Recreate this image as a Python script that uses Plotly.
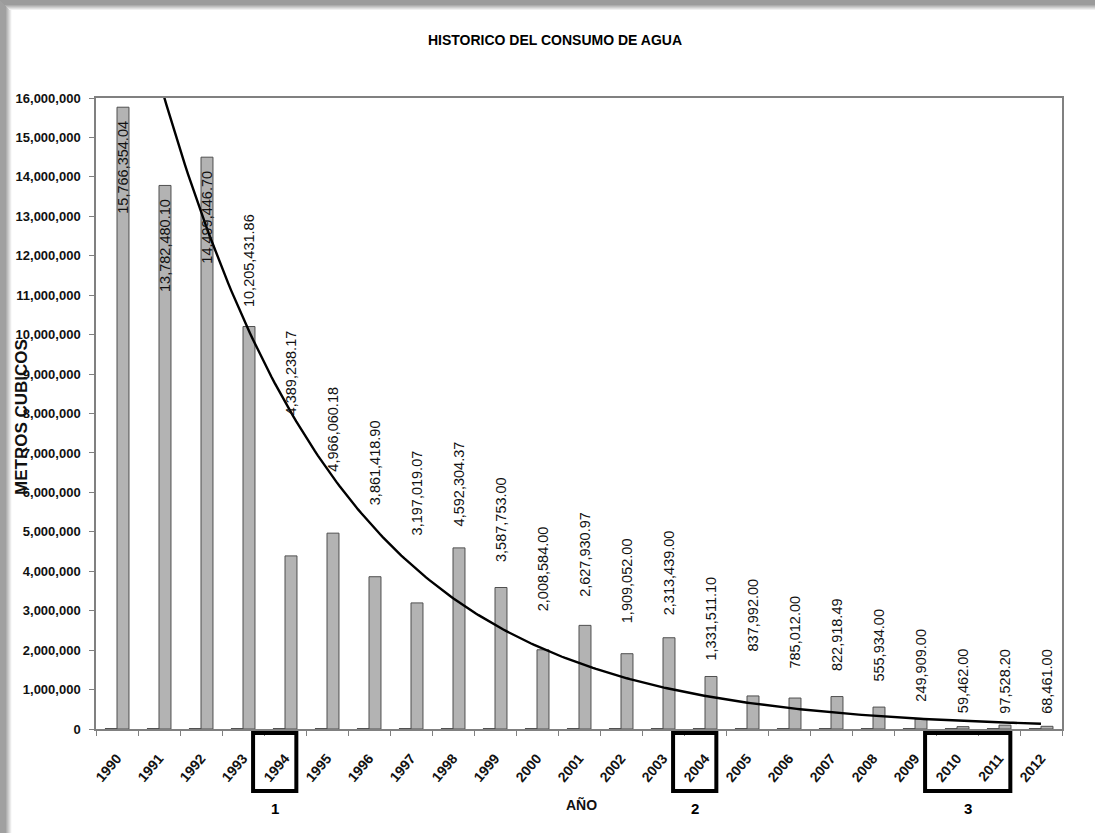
import numpy as np
import plotly.graph_objects as go

# ---- data -------------------------------------------------------------
years = list(range(1990, 2013))
year_labels = [str(y) for y in years]

# yearly water consumption (cubic metres)
consumo = [
    15766354.04, 13782480.10, 14499446.70, 10205431.86, 4389238.17,
    4966060.18, 3861418.90, 3197019.07, 4592304.37, 3587753.00,
    2008584.00, 2627930.97, 1909052.00, 2313439.00, 1331511.10,
    837992.00, 785012.00, 822918.49, 555934.00, 249909.00,
    59462.00, 97528.20, 68461.00,
]

# the year column is also plotted as a series; it lies flat on the axis
anio_values = [float(y) for y in years]

# years framed below the axis and their reference numbers
highlight_groups = [[1994], [2004], [2010, 2011]]
highlight_numbers = ["1", "2", "3"]

# ---- layout constants ---------------------------------------------------
W, H = 1095, 833
PLOT_L, PLOT_R, PLOT_T, PLOT_B = 96, 1062, 98, 729
FONT = "Liberation Sans, Arial, sans-serif"
BARGAP = 0.43

# vertical offset (px) of each value label from its bar top;
# negative values put the label inside the bar, hanging from the top
label_lift_px = [-11, -11, -11, 18, 139, 60, 70, 66, 20, 24, 37, 27,
                 29, 21, 14, 43, 28, 24, 24, 16, 12, 10, 11]


def px_x(px):
    return (px - PLOT_L) / (PLOT_R - PLOT_L)


def px_y(py):
    return (PLOT_B - py) / (PLOT_B - PLOT_T)


# ---- exponential trend line (least squares on log values) ---------------
idx = np.arange(1, len(consumo) + 1)
slope, intercept = np.polyfit(idx, np.log(np.array(consumo)), 1)
t_idx = np.linspace(1, len(consumo), 300)
trend_x = years[0] + (t_idx - 1)
trend_y = np.exp(intercept + slope * t_idx)

# ---- figure -------------------------------------------------------------
fig = go.Figure()

fig.add_bar(
    x=years, y=anio_values, name="AÑO",
    marker=dict(color="#3a3a3a", line=dict(color="#2a2a2a", width=1)),
    hoverinfo="skip",
)
fig.add_bar(
    x=years, y=consumo, name="METROS CUBICOS",
    marker=dict(color="#b3b3b3", line=dict(color="#4f4f4f", width=1)),
)
fig.add_scatter(
    x=trend_x, y=trend_y, mode="lines", name="Exponencial",
    line=dict(color="#000000", width=2.4), hoverinfo="skip",
)

annotations = []

# value labels, rotated, centred on the consumption bar of each group
bar_offset = (1 - BARGAP) / 4
for yr, val, lift in zip(years, consumo, label_lift_px):
    annotations.append(dict(
        x=yr + bar_offset, y=val, xref="x", yref="y",
        text=f"{val:,.2f}", showarrow=False, textangle=-90,
        xanchor="center", yanchor="top" if lift < 0 else "bottom",
        yshift=lift,
        font=dict(family=FONT, size=14.5, color="#111111"),
    ))

# axis titles
annotations.append(dict(
    x=px_x(21), y=px_y(417), xref="paper", yref="paper",
    xanchor="center", yanchor="middle",
    text="METROS CUBICOS", showarrow=False, textangle=-90,
    font=dict(family=FONT, size=17, color="#111111", weight="bold"),
))
annotations.append(dict(
    x=px_x(581), y=px_y(805), xref="paper", yref="paper",
    xanchor="center", yanchor="middle",
    text="AÑO", showarrow=False,
    font=dict(family=FONT, size=14, color="#111111", weight="bold"),
))

shapes = []

# frames around highlighted years with their numbers
BOX_PAD_L, BOX_PAD_R = 0.76, 0.27
for group, num in zip(highlight_groups, highlight_numbers):
    x0 = group[0] - BOX_PAD_L
    x1 = group[-1] + BOX_PAD_R
    shapes.append(dict(
        type="rect", xref="x", yref="paper",
        x0=x0, x1=x1, y0=px_y(733), y1=px_y(791),
        line=dict(color="#000000", width=4),
    ))
    annotations.append(dict(
        x=(x0 + x1) / 2, y=px_y(808), xref="x", yref="paper",
        xanchor="center", yanchor="middle",
        text=num, showarrow=False,
        font=dict(family=FONT, size=15, color="#000000", weight="bold"),
    ))

# soft page shadow along the left and top edges
for i in range(12):
    level = 160 + max(0, i - 5) * 15
    c = f"rgb({min(level,255)},{min(level,255)},{min(level,255)})"
    shapes.append(dict(
        type="rect", xref="paper", yref="paper", layer="below",
        x0=px_x(i), x1=px_x(i + 1), y0=px_y(H), y1=px_y(0),
        fillcolor=c, line=dict(width=0),
    ))
for i in range(10):
    level = 155 + max(0, i - 4) * 17
    c = f"rgb({min(level,255)},{min(level,255)},{min(level,255)})"
    shapes.append(dict(
        type="rect", xref="paper", yref="paper", layer="below",
        x0=px_x(min(i, 11)), x1=px_x(W), y0=px_y(i + 1), y1=px_y(i),
        fillcolor=c, line=dict(width=0),
    ))

fig.update_layout(
    width=W, height=H,
    margin=dict(l=PLOT_L, r=W - PLOT_R, t=PLOT_T, b=H - PLOT_B, pad=0),
    paper_bgcolor="#ffffff", plot_bgcolor="#ffffff",
    barmode="group", bargap=BARGAP, bargroupgap=0,
    showlegend=False,
    title=dict(
        text="HISTORICO DEL CONSUMO DE AGUA",
        x=555 / W, xref="container", xanchor="center",
        y=1 - 40 / H, yref="container", yanchor="middle",
        font=dict(family=FONT, size=14, color="#000000", weight="bold"),
    ),
    xaxis=dict(
        range=[years[0] - 0.5, years[-1] + 0.5],
        tickmode="array", tickvals=years, ticktext=year_labels,
        tickangle=-50, ticks="", ticklabelstandoff=14,
        tickfont=dict(family=FONT, size=14, color="#111111", weight="bold"),
        minor=dict(tick0=years[0] - 0.5, dtick=1, ticks="outside",
                   ticklen=5, tickcolor="#808080", tickwidth=1),
        showline=True, linecolor="#808080", linewidth=1.5, mirror=True,
        showgrid=False, zeroline=False, fixedrange=True,
    ),
    yaxis=dict(
        range=[0, 16000000], tick0=0, dtick=1000000, tickformat=",d",
        ticks="outside", ticklen=5, tickcolor="#808080",
        ticklabelstandoff=6,
        tickfont=dict(family=FONT, size=13, color="#111111", weight="bold"),
        showline=True, linecolor="#808080", linewidth=1.5, mirror=True,
        showgrid=False, zeroline=False, fixedrange=True,
    ),
    annotations=annotations,
    shapes=shapes,
)

fig.write_html("out.html")
